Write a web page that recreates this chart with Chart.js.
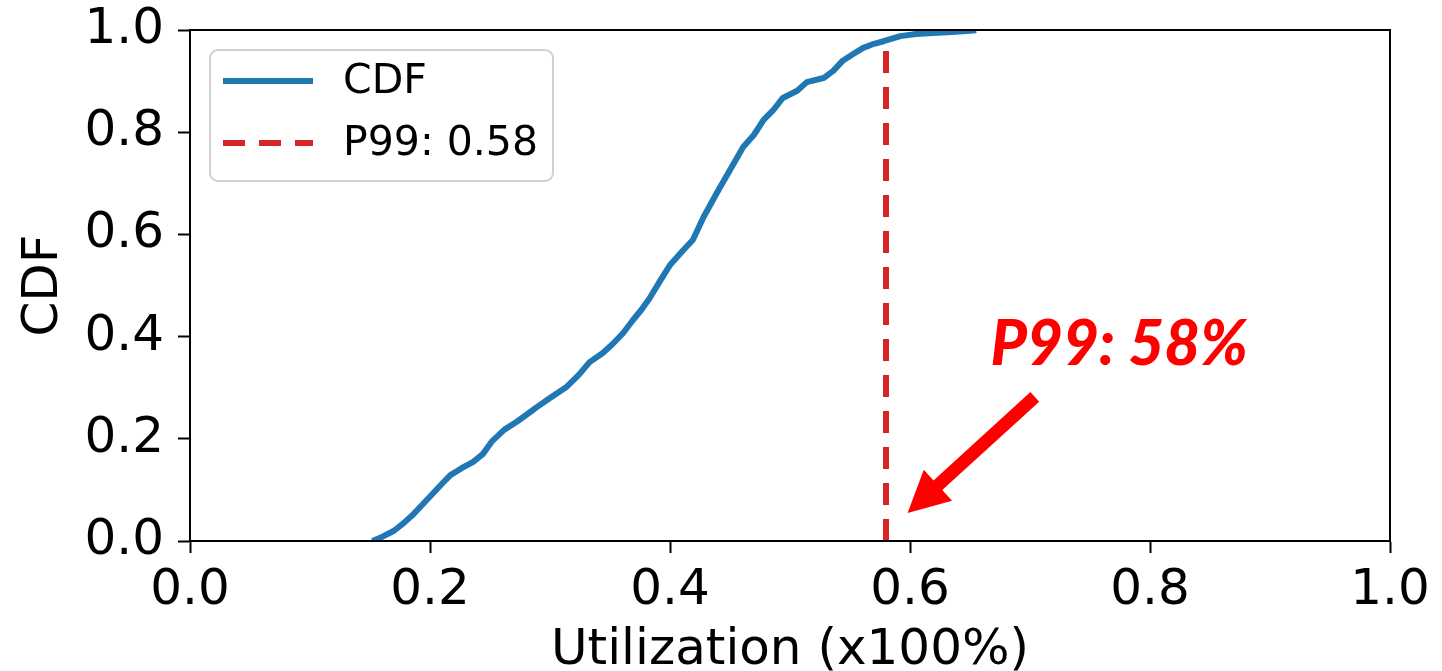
<!DOCTYPE html>
<html><head><meta charset="utf-8">
<script src="https://cdn.jsdelivr.net/npm/chart.js@4/dist/chart.umd.min.js"></script>
<style>html,body{margin:0;padding:0;background:#fff;}canvas{display:block;}</style>
</head><body>
<canvas id="c" width="1442" height="671"></canvas>
<script>
// ---- data ----
const utilization = [0.152,0.160,0.170,0.178,0.186,0.194,0.202,0.210,0.217,0.226,0.236,0.244,0.252,0.262,0.272,0.281,0.289,0.300,0.314,0.324,0.333,0.344,0.352,0.361,0.369,0.376,0.383,0.392,0.400,0.411,0.419,0.428,0.439,0.450,0.461,0.470,0.478,0.486,0.494,0.506,0.514,0.528,0.536,0.544,0.552,0.561,0.570,0.578,0.592,0.605,0.619,0.635,0.653,0.655];
const cdfValues   = [0.000,0.008,0.020,0.035,0.052,0.072,0.092,0.112,0.129,0.142,0.155,0.170,0.196,0.218,0.233,0.248,0.262,0.280,0.302,0.325,0.350,0.368,0.385,0.407,0.432,0.452,0.475,0.510,0.540,0.569,0.589,0.634,0.681,0.726,0.771,0.795,0.824,0.843,0.867,0.881,0.898,0.906,0.920,0.940,0.952,0.965,0.973,0.978,0.988,0.992,0.994,0.996,0.999,1.000];
const p99X = [0.58, 0.58];
const p99Y = [0.0, 0.98];
const tickValues = [0.0, 0.2, 0.4, 0.6, 0.8, 1.0];
const seriesLabels = ['CDF', 'P99: 0.58'];
const annotationText = 'P99: 58%';
const annotationAnchor = {x: 0.667, y: 0.344};
const arrowTail = {x: 0.704, y: 0.282};
const arrowTip = {x: 0.598, y: 0.055};

const BLUE = '#1f77b4', RED = '#d62728';
const FONT = 'DejaVu Sans';

const framePlugin = {
  id: 'frame',
  afterDraw(chart) {
    const {ctx, chartArea: a} = chart;
    ctx.save();
    ctx.strokeStyle = '#000'; ctx.lineWidth = 2;
    ctx.strokeRect(a.left, a.top, a.right - a.left, a.bottom - a.top);
    ctx.restore();
  }
};

const legendPlugin = {
  id: 'boxLegend',
  afterDraw(chart) {
    const {ctx, chartArea: a} = chart;
    const x = a.left + 20, y = a.top + 20, w = 343, h = 131, r = 8;
    ctx.save();
    ctx.beginPath();
    ctx.roundRect(x, y, w, h, r);
    ctx.fillStyle = 'rgba(255,255,255,0.8)';
    ctx.fill();
    ctx.strokeStyle = '#d0d0d0'; ctx.lineWidth = 2;
    ctx.stroke();
    const ds = chart.data.datasets;
    const rows = [y + 31, y + 93];
    ds.forEach((d, i) => {
      ctx.beginPath();
      ctx.strokeStyle = d.borderColor;
      ctx.lineWidth = d.borderWidth;
      ctx.setLineDash(d.borderDash || []);
      ctx.lineCap = 'butt';
      ctx.moveTo(x + 13, rows[i]);
      ctx.lineTo(x + 103, rows[i]);
      ctx.stroke();
      ctx.setLineDash([]);
      ctx.fillStyle = '#000';
      ctx.font = '41px "' + FONT + '"';
      ctx.textBaseline = 'middle';
      ctx.fillText(d.label, x + 133, rows[i] + 1);
    });
    ctx.restore();
  }
};

const annotationPlugin = {
  id: 'p99note',
  afterDraw(chart) {
    const {ctx} = chart;
    const sx = chart.scales.x, sy = chart.scales.y;
    const px = v => sx.getPixelForValue(v), py = v => sy.getPixelForValue(v);
    ctx.save();
    ctx.fillStyle = '#ff0000';
    ctx.font = 'italic 900 62px Lato';
    ctx.textBaseline = 'alphabetic';
    ctx.fillText(annotationText, px(annotationAnchor.x), py(annotationAnchor.y));
    // arrow
    const x0 = px(arrowTail.x), y0 = py(arrowTail.y), x1 = px(arrowTip.x), y1 = py(arrowTip.y);
    const dx = x1 - x0, dy = y1 - y0, L = Math.hypot(dx, dy);
    const ux = dx / L, uy = dy / L, nx = -uy, ny = ux;
    const headLen = 41, headHalf = 21, shaftHalf = 6.5;
    const bx = x1 - ux * headLen, by = y1 - uy * headLen;
    ctx.beginPath();
    ctx.moveTo(x0 + nx * shaftHalf, y0 + ny * shaftHalf);
    ctx.lineTo(bx + nx * shaftHalf, by + ny * shaftHalf);
    ctx.lineTo(bx + nx * headHalf, by + ny * headHalf);
    ctx.lineTo(x1, y1);
    ctx.lineTo(bx - nx * headHalf, by - ny * headHalf);
    ctx.lineTo(bx - nx * shaftHalf, by - ny * shaftHalf);
    ctx.lineTo(x0 - nx * shaftHalf, y0 - ny * shaftHalf);
    ctx.closePath();
    ctx.fill();
    ctx.restore();
  }
};

const axisCommon = {
  type: 'linear', min: 0, max: 1,
  afterBuildTicks(s) { s.ticks = tickValues.map(v => ({value: v})); },
  ticks: {color: '#000', font: {family: FONT, size: 50}, callback: v => Number(v).toFixed(1), autoSkip: false, maxRotation: 0},
  grid: {drawOnChartArea: false, drawTicks: true, tickLength: 12, tickWidth: 2, tickColor: '#000'},
  border: {color: '#000', width: 2}
};

function zeroPad(s) { s.paddingTop = 0; s.paddingBottom = 0; s.paddingLeft = 0; s.paddingRight = 0; }

new Chart(document.getElementById('c'), {
  type: 'scatter',
  data: {
    datasets: [
      {label: seriesLabels[0], data: utilization.map((x, i) => ({x, y: cdfValues[i]})), showLine: true, pointRadius: 0, borderColor: BLUE, borderWidth: 6, tension: 0, borderJoinStyle: 'round'},
      {label: seriesLabels[1], data: p99X.map((x, i) => ({x, y: p99Y[i]})), showLine: true, pointRadius: 0, borderColor: RED, borderWidth: 6, borderDash: [22, 14], borderCapStyle: 'butt'}
    ]
  },
  options: {
    responsive: false, animation: false, devicePixelRatio: 1,
    layout: {padding: {top: 30, right: 52, left: 0, bottom: 0}},
    plugins: {legend: {display: false}, tooltip: {enabled: false}},
    scales: {
      x: Object.assign({}, axisCommon, {
        ticks: Object.assign({}, axisCommon.ticks, {padding: 8}),
        title: {display: true, text: 'Utilization (x100%)', color: '#000', font: {family: FONT, size: 50, lineHeight: 0.8}, padding: {top: 0, bottom: 0}},
        afterFit(s) { s.height = 130; zeroPad(s); }
      }),
      y: Object.assign({}, axisCommon, {
        ticks: Object.assign({}, axisCommon.ticks, {padding: 14}),
        title: {display: true, text: 'CDF', color: '#000', font: {family: FONT, size: 50, lineHeight: 1}, padding: {top: 19, bottom: 0}},
        afterFit(s) { s.width = 190; zeroPad(s); }
      })
    }
  },
  plugins: [framePlugin, legendPlugin, annotationPlugin]
});
</script>
</body></html>
